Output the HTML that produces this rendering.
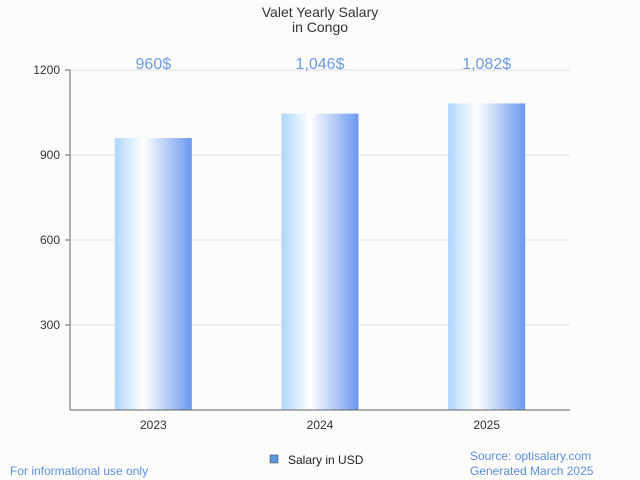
<!DOCTYPE html>
<html><head><meta charset="utf-8"><style>
body{margin:0;background:#fcfcfa;font-family:"Liberation Sans",sans-serif;}
svg{display:block}
</style></head><body>
<svg id="c" width="640" height="480">
<defs><linearGradient id="g" x1="0" x2="1" y1="0" y2="0">
<stop offset="0" stop-color="#aed6ff"/><stop offset="0.37" stop-color="#ffffff"/><stop offset="1" stop-color="#6a98ef"/>
</linearGradient></defs>
<rect width="640" height="480" fill="#fcfcfa"/>
<text x="320" y="17" text-anchor="middle" font-size="14" fill="#333">Valet Yearly Salary</text>
<text x="320" y="32" text-anchor="middle" font-size="14" fill="#333">in Congo</text>
<g id="grid"></g><g id="bars"></g>
<line x1="70" y1="70" x2="70" y2="410" stroke="#666"/>
<line x1="70" y1="410" x2="570" y2="410" stroke="#666"/>
<rect x="270" y="455" width="8" height="8" fill="#5b9be0" stroke="#333" stroke-width="0.5"/>
<text x="288" y="464" font-size="12" fill="#222">Salary in USD</text>
<text x="10" y="475" font-size="12" fill="#5b8fe0">For informational use only</text>
<text x="470" y="460" font-size="12" fill="#5b8fe0">Source: optisalary.com</text>
<text x="470" y="475" font-size="12" fill="#5b8fe0">Generated March 2025</text>
</svg>
<script>
const categories=["2023","2024","2025"];
const values=[960,1046,1082];
const valueLabels=["960$","1,046$","1,082$"];
const ticks=[300,600,900,1200];
const NS="http://www.w3.org/2000/svg";
const y=v=>410-v*340/1200;
const band=500/3;
const x=i=>70+band*(i+0.5);
function mk(t,a,p){const e=document.createElementNS(NS,t);for(const k in a)e.setAttribute(k,a[k]);p.appendChild(e);return e;}
const grid=document.getElementById('grid'),bars=document.getElementById('bars');
ticks.forEach(t=>{
 const l=mk('line',{x1:70,x2:570,y1:y(t),y2:y(t),stroke:'#e0e0e0'},grid);
 
 
 mk('line',{x1:65,x2:70,y1:y(t),y2:y(t),stroke:'#666'},grid);
 const tx=mk('text',{x:60,y:y(t)+4,'text-anchor':'end','font-size':12,fill:'#333'},grid);
 tx.textContent=t;
 
 
});
categories.forEach((c,i)=>{
 const r=mk('rect',{x:x(i)-38.5,y:y(values[i]),width:77,height:410-y(values[i]),fill:'url(#g)'},bars);
 
 
 const lb=mk('text',{x:x(i),y:69,'text-anchor':'middle','font-size':16,fill:'#6a9ae8'},bars);
 lb.textContent=valueLabels[i];
 
 
 const xl=mk('text',{x:x(i),y:429,'text-anchor':'middle','font-size':12,fill:'#333'},bars);
 xl.textContent=c;
 
 
});
</script>
</body></html>
